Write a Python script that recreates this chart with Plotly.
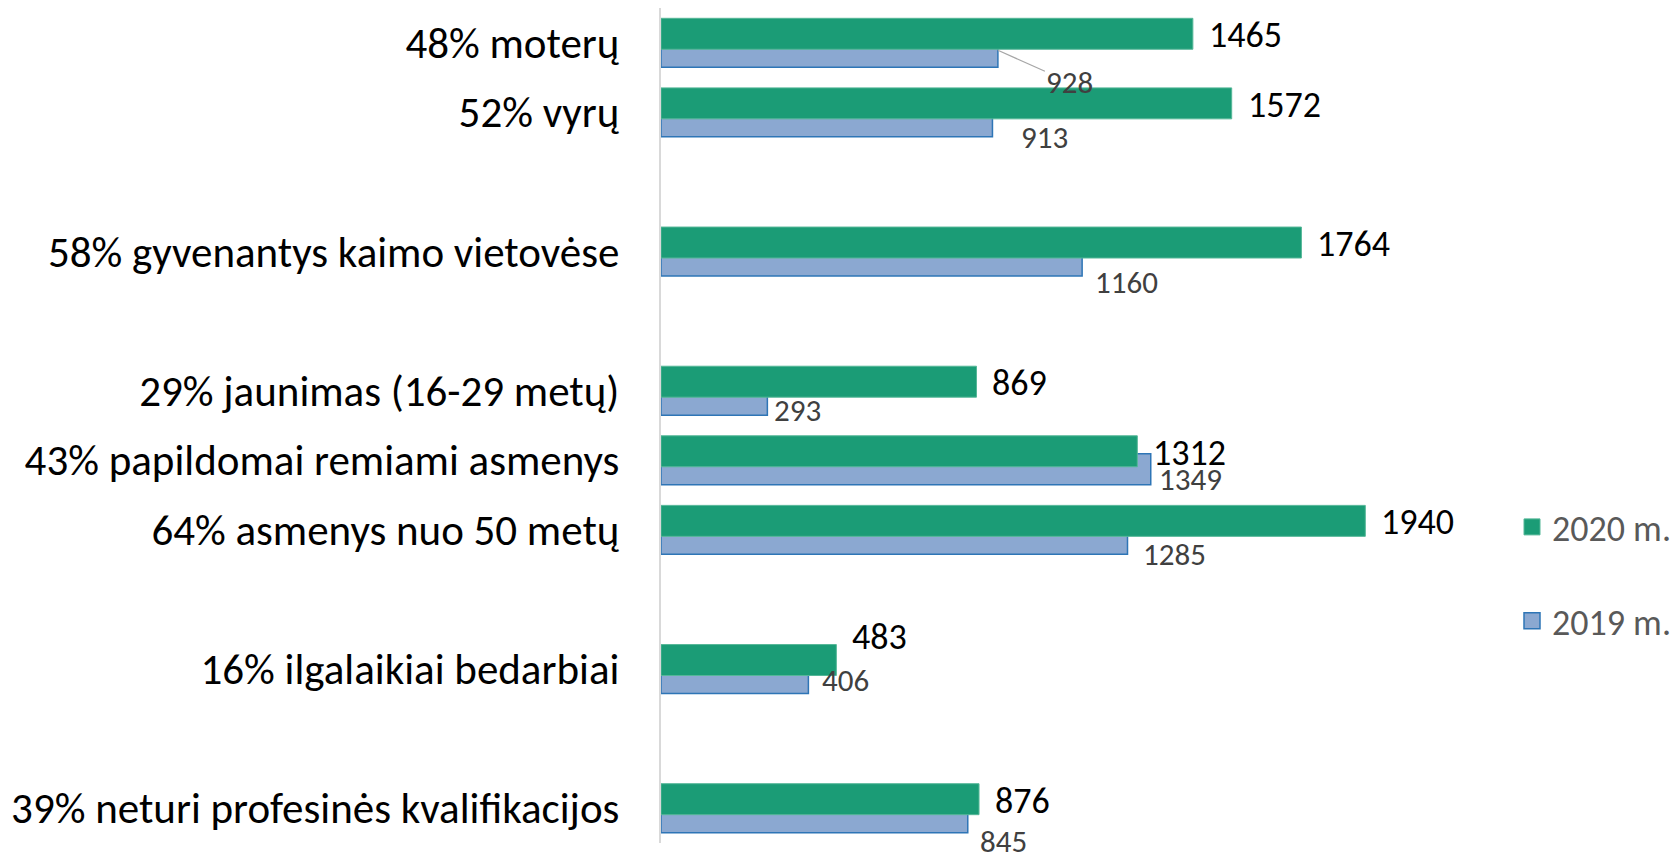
import plotly.graph_objects as go

# ---- data ----
categories = [
    "48% moterų",
    "52% vyrų",
    "58% gyvenantys kaimo vietovėse",
    "29% jaunimas (16-29 metų)",
    "43% papildomai remiami asmenys",
    "64% asmenys nuo 50 metų",
    "16% ilgalaikiai bedarbiai",
    "39% neturi profesinės kvalifikacijos",
]
values_2020 = [1465, 1572, 1764, 869, 1312, 1940, 483, 876]
values_2019 = [928, 913, 1160, 293, 1349, 1285, 406, 845]
series_names = ["2020 m.", "2019 m."]

# ---- layout / style ----
# category order on the axis incl. blank spacer rows
axis_order = [categories[0], categories[1], " ", categories[2], "  ",
              categories[3], categories[4], categories[5], "   ",
              categories[6], "    ", categories[7]]

FONT = "Carlito, Lato, 'Open Sans', sans-serif"
GREEN = "#1b9c76"
GREEN_LINE = "#55b798"
BLUE = "#8ba8d1"
BLUE_LINE = "#2e75b6"

# label nudges (pixels) – hand-placed labels in the original
green_lift = [0, 0, 0, 0, 0, 0, 25, 0]
blue_dx = [0, 27, 11, 5, 6, 13, 12, 10]
blue_dy = [40, 25, 30.5, 19, 18.4, 24.5, 11, 33]

fig = go.Figure()

fig.add_trace(go.Bar(
    y=categories, x=values_2019, orientation="h", name=series_names[1],
    marker=dict(color=BLUE, line=dict(color=BLUE_LINE, width=1.5)),
    width=0.445, offset=-0.093, showlegend=False, hoverinfo="skip",
))
fig.add_trace(go.Bar(
    y=categories, x=values_2020, orientation="h", name=series_names[0],
    marker=dict(color=GREEN, line=dict(color=GREEN_LINE, width=1)),
    width=0.445, offset=-0.352, showlegend=False, hoverinfo="skip",
))

# legend entries
fig.add_trace(go.Scatter(
    x=[None], y=[None], mode="markers", name=series_names[0],
    marker=dict(symbol="square", size=16, color=GREEN, line=dict(color=GREEN_LINE, width=1)),
    legendgroup="a", legendrank=1,
))
fig.add_trace(go.Scatter(
    x=[None], y=[None], mode="markers", name=series_names[1],
    marker=dict(symbol="square", size=16, color=BLUE, line=dict(color=BLUE_LINE, width=1.5)),
    legendgroup="b", legendrank=2,
))

annotations = []
for i, (c, v) in enumerate(zip(categories, values_2020)):
    annotations.append(dict(
        x=v, y=c, xref="x", yref="y", text=str(v), showarrow=False,
        xanchor="left", yanchor="middle", xshift=14, yshift=7.5 + green_lift[i],
        font=dict(family=FONT, size=36, color="#000000"),
    ))
for i, (c, v) in enumerate(zip(categories, values_2019)):
    if i == 0:
        annotations.append(dict(
            x=v, y=c, xref="x", yref="y", text=str(v), showarrow=True,
            arrowhead=0, arrowwidth=1.2, arrowcolor="#a6a6a6",
            ax=72, ay=32, yshift=-7.5,
            font=dict(family=FONT, size=31, color="#404040"),
        ))
        continue
    annotations.append(dict(
        x=v, y=c, xref="x", yref="y", text=str(v), showarrow=False,
        xanchor="left", yanchor="middle", xshift=blue_dx[i], yshift=-blue_dy[i],
        font=dict(family=FONT, size=31, color="#404040"),
    ))

fig.update_layout(
    width=1680, height=855,
    margin=dict(l=661, r=184, t=8, b=12, pad=0),
    paper_bgcolor="white", plot_bgcolor="white",
    barmode="overlay",
    font=dict(family=FONT, color="#000000"),
    annotations=annotations,
    legend=dict(
        xref="container", yref="container",
        x=1512 / 1680, y=1 - 497 / 855, xanchor="left", yanchor="top",
        traceorder="grouped", tracegroupgap=44,
        font=dict(family=FONT, size=36, color="#595959"),
        itemsizing="trace",
    ),
    xaxis=dict(range=[0, 2300], visible=False, showgrid=False, zeroline=False),
    yaxis=dict(
        type="category", categoryorder="array", categoryarray=axis_order,
        range=[11.5, -0.5], autorange=False,
        showline=True, linecolor="#d9d9d9", linewidth=2,
        showgrid=False, zeroline=False, ticks="",
        ticklabelstandoff=31,
        tickfont=dict(family=FONT, size=43, color="#000000"),
    ),
)

fig.write_html("out.html", config={"displayModeBar": False},
               post_script="document.body.style.margin='0';")
